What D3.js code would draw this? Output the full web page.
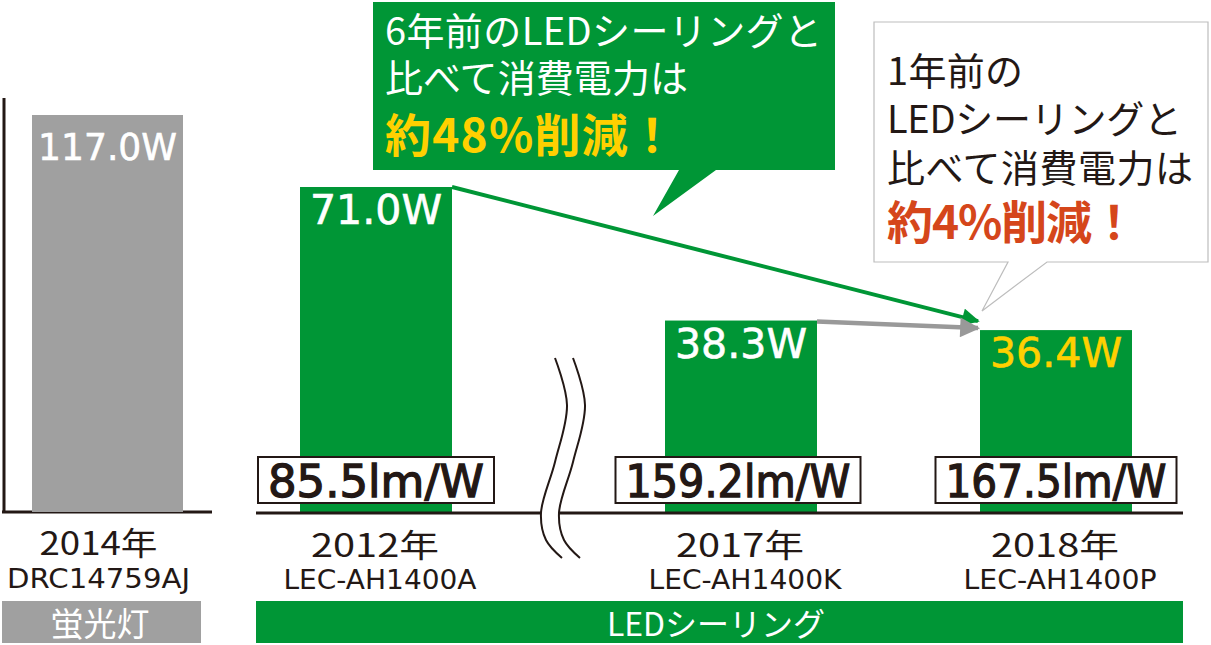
<!DOCTYPE html>
<html>
<head>
<meta charset="utf-8">
<script src="https://cdn.jsdelivr.net/npm/d3@7"></script>
<style>
  html, body { margin: 0; padding: 0; background: #fff; }
  svg { display: block; }
  text { font-family: "Noto Sans CJK JP", "Noto Sans", sans-serif; }
  .num { font-family: "DejaVu Sans", "Noto Sans CJK JP", sans-serif; }
</style>
</head>
<body>
<svg id="chart" width="1211" height="645"></svg>
<script>
// ---- data ----
var flYears  = ["2014年"];
var flModels = ["DRC14759AJ"];
var flWatts  = [117.0];

var ledYears   = [2012, 2017, 2018];
var ledModels  = ["LEC-AH1400A", "LEC-AH1400K", "LEC-AH1400P"];
var ledWatts   = [71.0, 38.3, 36.4];
var ledLmPerW  = [85.5, 159.2, 167.5];

var groupLabels = ["蛍光灯", "LEDシーリング"];
var callout6y = ["6年前のLEDシーリングと", "比べて消費電力は", "約48%削減！"];
var callout1y = ["1年前の", "LEDシーリングと", "比べて消費電力は", "約4%削減！"];

var GREEN = "#009636", GREY = "#a0a0a0", DARK = "#231815";
var YELLOW = "#ffd000", ORANGE = "#d5461b";

var svg = d3.select("#chart");

// broken value axis: the LED part is stretched, so the scale is piecewise
var y = d3.scaleLinear().domain([0, 40, 71, 117]).range([513, 312, 187, 115]);
// broken time axis for the LED group
var xLed = d3.scaleLinear().domain([2012, 2017, 2018]).range([376, 741, 1056]);
var xFl = d3.scaleBand().domain(flYears).range([32, 183]);
var barW = 152;

var defs = svg.append("defs");
function marker(id, col){
    defs.append("marker").attr("id", id)
	.attr("viewBox", "0 0 10 10").attr("refX", 9).attr("refY", 5)
	.attr("markerWidth", 5).attr("markerHeight", 4.4)
	.attr("markerUnits", "strokeWidth")
	.attr("orient", "auto")
	.append("path").attr("d", "M0,0 L10,5 L0,10 z").attr("fill", col);
}
marker("arr-green", GREEN);
marker("arr-grey", "#999");

// ---- fluorescent panel ----
var fl = svg.append("g");
fl.append("line").attr("x1", 4).attr("x2", 4).attr("y1", 98).attr("y2", 513)
    .attr("stroke", DARK).attr("stroke-width", 3);
fl.append("line").attr("x1", 2).attr("x2", 212).attr("y1", 512).attr("y2", 512)
    .attr("stroke", DARK).attr("stroke-width", 3);

fl.selectAll("rect.bar").data(flWatts).enter().append("rect").attr("class", "bar")
    .attr("x", function(d, i){ return xFl(flYears[i]); })
    .attr("width", xFl.bandwidth())
    .attr("y", function(d){ return y(d); })
    .attr("height", function(d){ return y(0) - 1 - y(d); })
    .attr("fill", GREY);

fl.selectAll("text.val").data(flWatts).enter().append("text").attr("class", "val num")
    .attr("x", function(d, i){ return xFl(flYears[i]) + xFl.bandwidth()/2; })
    .attr("y", function(d){ return y(d) + 45; })
    .attr("text-anchor", "middle").attr("fill", "#fff")
    .attr("stroke", "#fff").attr("stroke-width", 0.6)
    .attr("font-size", 38).attr("textLength", 139).attr("lengthAdjust", "spacingAndGlyphs")
    .text(function(d){ return d.toFixed(1) + "W"; });

fl.selectAll("text.yr").data(flYears).enter().append("text")
    .attr("x", function(d){ return xFl(d) + xFl.bandwidth()/2 - 9; })
    .attr("y", 555).attr("text-anchor", "middle").attr("fill", DARK)
    .attr("font-size", 32).attr("textLength", 118).attr("lengthAdjust", "spacingAndGlyphs")
    .text(function(d){ return d; });
fl.selectAll("text.mdl").data(flModels).enter().append("text").attr("class", "num")
    .attr("x", function(d, i){ return xFl(flYears[i]) + xFl.bandwidth()/2 - 9; })
    .attr("y", 588).attr("text-anchor", "middle").attr("fill", DARK)
    .attr("font-size", 26).attr("textLength", 183).attr("lengthAdjust", "spacingAndGlyphs")
    .text(function(d){ return d; });

// group band
fl.append("rect").attr("x", 2).attr("y", 601).attr("width", 199).attr("height", 42).attr("fill", GREY);
fl.append("text").attr("x", 100).attr("y", 636).attr("text-anchor", "middle")
    .attr("fill", "#fff").attr("font-size", 33).text(groupLabels[0]);

// ---- LED panel ----
var led = svg.append("g");

led.selectAll("rect.bar").data(ledWatts).enter().append("rect").attr("class", "bar")
    .attr("x", function(d, i){ return xLed(ledYears[i]) - barW/2; })
    .attr("width", barW)
    .attr("y", function(d){ return y(d); })
    .attr("height", function(d){ return y(0) - y(d); })
    .attr("fill", GREEN);

led.append("line").attr("x1", 256).attr("x2", 1183).attr("y1", 513).attr("y2", 513)
    .attr("stroke", DARK).attr("stroke-width", 3);

led.selectAll("text.val").data(ledWatts).enter().append("text").attr("class", "val num")
    .attr("x", function(d, i){ return xLed(ledYears[i]); })
    .attr("y", function(d){ return y(d) + 37; })
    .attr("text-anchor", "middle")
    .attr("fill", function(d, i){ return i == ledWatts.length - 1 ? YELLOW : "#fff"; })
    .attr("stroke", function(d, i){ return i == ledWatts.length - 1 ? YELLOW : "#fff"; })
    .attr("stroke-width", 0.6)
    .attr("font-size", 40).attr("textLength", 132).attr("lengthAdjust", "spacingAndGlyphs")
    .text(function(d){ return d.toFixed(1) + "W"; });

// efficacy boxes
var boxW = [236, 245, 241];
var eff = led.selectAll("g.eff").data(ledLmPerW).enter().append("g").attr("class", "eff");
eff.append("rect")
    .attr("x", function(d, i){ return xLed(ledYears[i]) - boxW[i]/2 - (i == 1 ? 3 : 0); })
    .attr("y", 457).attr("width", function(d, i){ return boxW[i]; }).attr("height", 46)
    .attr("fill", "#fff").attr("stroke", DARK).attr("stroke-width", 2);
eff.append("text").attr("class", "num")
    .attr("x", function(d, i){ return xLed(ledYears[i]) - (i == 1 ? 3 : 0); })
    .attr("y", 497).attr("text-anchor", "middle").attr("fill", DARK)
    .attr("stroke", DARK).attr("stroke-width", 1.3)
    .attr("font-size", 44)
    .attr("textLength", function(d, i){ return boxW[i] - 20; }).attr("lengthAdjust", "spacingAndGlyphs")
    .text(function(d){ return d.toFixed(1) + "lm/W"; });

led.selectAll("text.yr").data(ledYears).enter().append("text")
    .attr("x", function(d){ return xLed(d) - 1; })
    .attr("y", 557).attr("text-anchor", "middle").attr("fill", DARK)
    .attr("font-size", 32).attr("textLength", 128).attr("lengthAdjust", "spacingAndGlyphs")
    .text(function(d){ return d + "年"; });
led.selectAll("text.mdl").data(ledModels).enter().append("text").attr("class", "num")
    .attr("x", function(d, i){ return xLed(ledYears[i]) + 4; })
    .attr("y", 589).attr("text-anchor", "middle").attr("fill", DARK)
    .attr("font-size", 26).attr("textLength", 193).attr("lengthAdjust", "spacingAndGlyphs")
    .text(function(d){ return d; });

led.append("rect").attr("x", 256).attr("y", 601).attr("width", 927).attr("height", 42).attr("fill", GREEN);
led.append("text").attr("x", 716).attr("y", 636).attr("text-anchor", "middle")
    .attr("fill", "#fff").attr("font-size", 32).text(groupLabels[1]);

// axis break (wavy double line between 2012 and 2017)
var waveL = [[555,358],[567,405],[555,462],[541,513],[546,540],[562,558]];
var waveR = waveL.map(function(p){ return [p[0] + 18, p[1]]; });
var wave = d3.line().curve(d3.curveCatmullRom);
led.append("path")
    .attr("d", wave(waveL) + "L" + wave(waveR.slice().reverse()).slice(1) + "Z")
    .attr("fill", "#fff");
[waveL, waveR].forEach(function(pts){
    led.append("path").attr("d", wave(pts)).attr("fill", "none")
	.attr("stroke", DARK).attr("stroke-width", 2);
});

// ---- arrows ----
var x2012r = xLed(2012) + barW/2, x2017r = xLed(2017) + barW/2, x2018l = xLed(2018) - barW/2;
svg.append("line")
    .attr("x1", x2012r).attr("y1", y(71.0))
    .attr("x2", x2018l - 2).attr("y2", y(36.4) - 9)
    .attr("stroke", GREEN).attr("stroke-width", 4).attr("marker-end", "url(#arr-green)");
svg.append("line")
    .attr("x1", x2017r).attr("y1", y(38.3) + 1)
    .attr("x2", x2018l - 2).attr("y2", y(36.4) - 2)
    .attr("stroke", "#999").attr("stroke-width", 4.5).attr("marker-end", "url(#arr-grey)");

// ---- callouts (one text block each, a tspan per line) ----
var c1 = svg.append("g");
c1.append("path")
    .attr("d", "M373,2 H835 V170 H716 L653,216 L679,170 H373 Z")
    .attr("fill", GREEN);
var c1Len = [437, 303, 290];
c1.append("text").selectAll("tspan").data(callout6y).enter().append("tspan")
    .attr("x", 385)
    .attr("y", function(d, i){ return [45, 92, 152][i]; })
    .attr("fill", function(d, i){ return i == 2 ? YELLOW : "#fff"; })
    .attr("font-size", function(d, i){ return i == 2 ? 46 : 38; })
    .attr("font-weight", function(d, i){ return i == 2 ? "bold" : "normal"; })
    .attr("textLength", function(d, i){ return c1Len[i]; }).attr("lengthAdjust", "spacing")
    .text(function(d){ return d; });

var c2 = svg.append("g");
c2.append("path")
    .attr("d", "M874,22 H1208 V262 H1047 L982,311 L1008,262 H874 Z")
    .attr("fill", "#fff").attr("stroke", "#bdbdbd").attr("stroke-width", 1.2);
var c2Len = [136, 295, 306, 250];
c2.append("text").selectAll("tspan").data(callout1y).enter().append("tspan")
    .attr("x", 887)
    .attr("y", function(d, i){ return [85, 133, 182, 239][i]; })
    .attr("fill", function(d, i){ return i == 3 ? ORANGE : DARK; })
    .attr("font-size", function(d, i){ return i == 3 ? 46 : 38; })
    .attr("font-weight", function(d, i){ return i == 3 ? "bold" : "normal"; })
    .attr("textLength", function(d, i){ return c2Len[i]; }).attr("lengthAdjust", "spacing")
    .text(function(d){ return d; });
</script>
</body>
</html>
